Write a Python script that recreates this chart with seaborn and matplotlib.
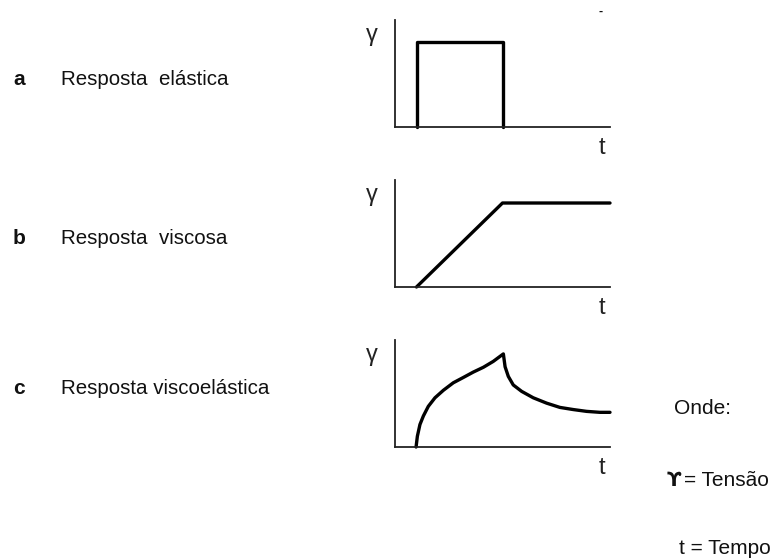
import numpy as np
import pandas as pd
import matplotlib
matplotlib.use("Agg")
import matplotlib.pyplot as plt
import seaborn as sns

# panel a: pulse (elastic response)
elastic_t = [1.0, 1.0, 5.0, 5.0]
elastic_g = [0.0, 0.79, 0.79, 0.0]

# panel b: ramp then plateau (viscous response)
viscous_t = [1.0, 5.0, 10.0]
viscous_g = [0.0, 0.785, 0.785]

# panel c: creep + recovery (viscoelastic response)
visco_t = [0.98, 1.04, 1.16, 1.32, 1.55, 1.86, 2.25, 2.71, 3.18, 3.64, 4.11, 4.57, 5.04,
           5.12, 5.27, 5.50, 5.89, 6.43, 7.05, 7.67, 8.29, 8.91, 9.53, 10.0]
visco_g = [0.0, 0.10, 0.21, 0.29, 0.38, 0.46, 0.53, 0.60, 0.65, 0.70, 0.745, 0.80, 0.87,
           0.75, 0.66, 0.58, 0.52, 0.46, 0.41, 0.37, 0.35, 0.333, 0.324, 0.324]

panel_letters = ["a", "b", "c"]
panel_titles = ["Resposta  elástica", "Resposta  viscosa", "Resposta viscoelástica"]
legend_head = "Onde:"
stress_symbol = "\u03d2"
stress_text = "= Tensão"
time_text = "t = Tempo"

sns.set_theme(style="white")
plt.rcParams['font.family'] = ['Liberation Sans', 'DejaVu Sans']

W, H = 784, 560
fig = plt.figure(figsize=(W / 100, H / 100), dpi=100)


def px_axes(left, top, right, bottom):
    # pixel box -> figure fraction
    return fig.add_axes([left / W, 1 - bottom / H, (right - left) / W, (bottom - top) / H])


def px_text(x, y, s, **kw):
    kw.setdefault("va", "center")
    kw.setdefault("ha", "left")
    kw.setdefault("color", "#111111")
    return fig.text(x / W, 1 - y / H, s, **kw)


series = [(elastic_t, elastic_g), (viscous_t, viscous_g), (visco_t, visco_g)]
axis_tops = [20, 180, 340]
axis_bottoms = [127, 287, 447]
text_y = [80, 238, 388]

for i, (tt, gg) in enumerate(series):
    ax = px_axes(395, axis_tops[i], 610, axis_bottoms[i])
    df = pd.DataFrame({"t": tt, "g": gg})
    sns.lineplot(data=df, x="t", y="g", ax=ax, color="black", linewidth=2.4,
                 estimator=None, sort=False, clip_on=False, solid_joinstyle="round")
    ax.set_xlim(0, 10)
    ax.set_ylim(0, 1)
    ax.set_xticks([])
    ax.set_yticks([])
    for side in ["top", "right"]:
        ax.spines[side].set_visible(False)
    for side in ["left", "bottom"]:
        ax.spines[side].set_color("#222222")
        ax.spines[side].set_linewidth(1.3)
    ax.set_xlabel("t", fontsize=17, color="#222222", va="center")
    ax.set_ylabel("\u03b3", fontsize=17, rotation=0, color="#222222", va="center")
    ax.xaxis.set_label_coords(0.963, -0.2)
    ax.yaxis.set_label_coords(-0.107, 0.86)
    ax.patch.set_alpha(0)

    px_text(13, text_y[i], panel_letters[i], fontsize=15, fontweight="bold")
    px_text(61, text_y[i], panel_titles[i], fontsize=14.8)

# stray tick mark at the top right of panel a
px_text(601, 12, "-", fontsize=9, fontweight="bold", ha="center")

px_text(674, 408, legend_head, fontsize=15)
px_text(667, 481, stress_symbol, fontsize=14, fontweight="bold", family=["DejaVu Sans"])
px_text(684, 480, stress_text, fontsize=15)
px_text(679, 548, time_text, fontsize=15)

fig.savefig("out.png", dpi=100, facecolor="white")
